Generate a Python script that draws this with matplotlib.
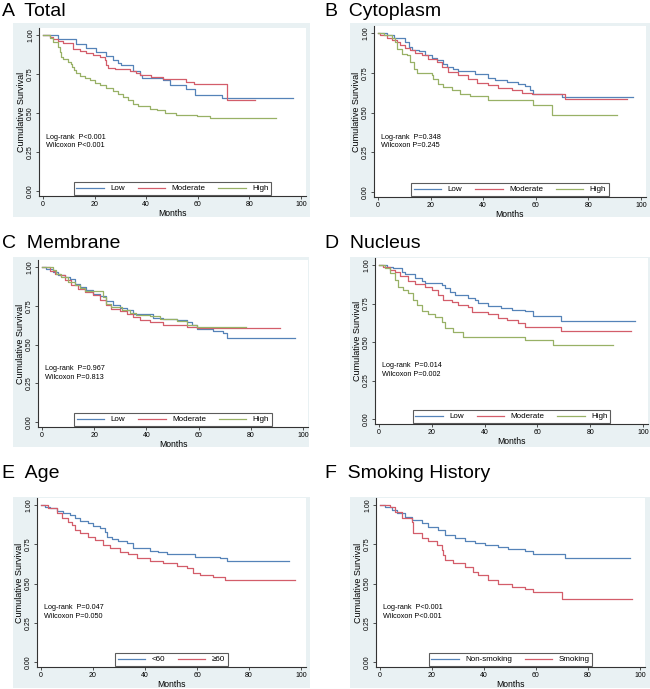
import matplotlib
matplotlib.use("Agg")
import matplotlib.pyplot as plt
from matplotlib.patches import Rectangle

plt.rcParams['font.family'] = ['Liberation Sans', 'DejaVu Sans']

W, H = 650, 689
fig = plt.figure(figsize=(W / 100, H / 100), dpi=100)

BLUE = '#5583B8'
RED = '#D35D6A'
GREEN = '#98B166'
REGION = '#E9F1F3'

# ---------------- data ----------------
# Panel A: Total
A_low_t = [0, 5.8, 12.9, 16.8, 20.7, 24.6, 27.2, 29.1, 30.4, 34.9, 37.5, 38.2, 46.6, 49.2, 55.6, 58.9, 69.2, 97]
A_low_s = [1.0, 0.974, 0.94, 0.914, 0.889, 0.865, 0.84, 0.818, 0.805, 0.767, 0.743, 0.726, 0.711, 0.679, 0.657, 0.615, 0.597, 0.597]
A_mod_t = [0, 2.6, 3.9, 5.8, 7.8, 11.6, 14.2, 16.8, 19.4, 22.0, 23.9, 24.6, 25.2, 27.8, 33.6, 36.2, 37.5, 42.0, 46.6, 51.7, 55.6, 58.5, 71.2, 82]
A_mod_s = [1.0, 0.99, 0.974, 0.964, 0.946, 0.91, 0.90, 0.886, 0.871, 0.857, 0.84, 0.807, 0.786, 0.779, 0.769, 0.754, 0.741, 0.728, 0.72, 0.715, 0.70, 0.683, 0.583, 0.583]
A_high_t = [0, 2.6, 3.9, 5.8, 6.5, 7.1, 7.8, 9.7, 11.0, 11.4, 11.9, 12.9, 14.2, 16.2, 18.1, 20.0, 22.0, 24.6, 27.2, 29.1, 31.0, 33.0, 34.9, 36.9, 41.4, 44.0, 47.2, 51.7, 59.5, 64.7, 66.0, 90.5]
A_high_s = [1.0, 0.98, 0.957, 0.925, 0.893, 0.86, 0.843, 0.83, 0.814, 0.797, 0.775, 0.754, 0.737, 0.722, 0.711, 0.694, 0.679, 0.662, 0.642, 0.621, 0.60, 0.582, 0.557, 0.544, 0.527, 0.518, 0.503, 0.49, 0.48, 0.471, 0.465, 0.465]

# Panel B: Cytoplasm
B_low_t = [0, 3.4, 6.1, 10.4, 11.6, 12.9, 15.4, 18.0, 20.5, 22.4, 24.9, 26.2, 28.7, 30.6, 37.0, 42.0, 44.6, 49.0, 53.4, 56.0, 57.8, 59.1, 69.9, 97]
B_low_s = [1.0, 0.985, 0.97, 0.943, 0.912, 0.895, 0.887, 0.86, 0.845, 0.828, 0.807, 0.786, 0.776, 0.761, 0.74, 0.719, 0.702, 0.692, 0.677, 0.665, 0.644, 0.618, 0.597, 0.597]
B_mod_t = [0, 0.9, 3.4, 5.3, 7.2, 8.5, 10.4, 12.3, 14.2, 16.7, 19.2, 22.4, 24.3, 26.8, 30.6, 34.4, 37.6, 42.0, 45.8, 50.9, 54.7, 58.5, 71.1, 94.5]
B_mod_s = [1.0, 0.99, 0.97, 0.958, 0.943, 0.922, 0.908, 0.891, 0.874, 0.86, 0.839, 0.818, 0.786, 0.755, 0.734, 0.713, 0.686, 0.671, 0.656, 0.639, 0.623, 0.614, 0.587, 0.587]
B_high_t = [0, 2.2, 5.3, 6.6, 7.2, 9.1, 11.0, 12.3, 13.5, 14.8, 20.5, 21.1, 23.0, 24.9, 28.1, 31.3, 35.0, 42.0, 59.1, 66.1, 91]
B_high_s = [1.0, 0.99, 0.97, 0.943, 0.901, 0.87, 0.86, 0.818, 0.776, 0.748, 0.734, 0.713, 0.68, 0.66, 0.639, 0.618, 0.602, 0.58, 0.545, 0.482, 0.482]

# Panel C: Membrane
C_low_t = [0, 1.7, 4.2, 6.1, 8.7, 10.6, 12.5, 14.5, 17.0, 19.6, 22.2, 24.7, 27.3, 29.8, 32.4, 34.9, 38.8, 42.6, 46.5, 51.6, 55.4, 57.4, 59.3, 65.7, 69.5, 70.8, 97]
C_low_s = [1.0, 0.99, 0.968, 0.95, 0.935, 0.92, 0.892, 0.87, 0.849, 0.828, 0.813, 0.78, 0.755, 0.738, 0.72, 0.70, 0.694, 0.67, 0.662, 0.656, 0.645, 0.624, 0.60, 0.59, 0.576, 0.542, 0.542]
C_mod_t = [0, 3.0, 4.9, 6.8, 8.7, 11.3, 13.8, 16.4, 19.6, 22.2, 24.7, 26.6, 29.8, 32.4, 34.9, 37.5, 41.4, 46.5, 55.4, 59.3, 91]
C_mod_s = [1.0, 0.972, 0.957, 0.946, 0.914, 0.882, 0.86, 0.839, 0.817, 0.785, 0.753, 0.731, 0.714, 0.699, 0.677, 0.656, 0.645, 0.628, 0.613, 0.606, 0.606]
C_high_t = [0, 4.2, 5.5, 7.4, 10.0, 12.5, 14.5, 16.4, 23.4, 24.7, 26.6, 30.5, 33.7, 36.2, 41.4, 45.2, 51.6, 55.4, 59.3, 78]
C_high_s = [1.0, 0.978, 0.957, 0.935, 0.903, 0.882, 0.862, 0.845, 0.806, 0.763, 0.742, 0.72, 0.705, 0.69, 0.684, 0.662, 0.65, 0.628, 0.613, 0.613]

# Panel D: Nucleus
D_low_t = [0, 2.9, 5.4, 8.6, 9.8, 13.6, 16.1, 17.4, 23.7, 25.0, 26.9, 28.8, 33.8, 36.3, 37.6, 41.4, 46.4, 50.2, 55.2, 58.4, 69.1, 97]
D_low_s = [1.0, 0.99, 0.978, 0.957, 0.94, 0.914, 0.896, 0.881, 0.87, 0.849, 0.827, 0.806, 0.788, 0.773, 0.752, 0.736, 0.724, 0.708, 0.702, 0.672, 0.637, 0.637]
D_mod_t = [0, 1.6, 4.2, 6.1, 8.0, 11.1, 13.6, 17.4, 19.9, 22.5, 24.3, 27.5, 30.0, 33.8, 35.1, 41.4, 45.2, 48.3, 52.7, 55.2, 69.1, 95.6]
D_mod_s = [1.0, 0.99, 0.968, 0.952, 0.931, 0.896, 0.875, 0.86, 0.838, 0.806, 0.773, 0.758, 0.74, 0.73, 0.698, 0.68, 0.659, 0.644, 0.622, 0.60, 0.572, 0.572]
D_high_t = [0, 2.3, 4.2, 6.1, 7.3, 9.2, 11.1, 13.0, 14.3, 16.2, 18.7, 21.2, 23.7, 25.0, 28.1, 31.9, 55.2, 66.0, 88.7]
D_high_s = [1.0, 0.978, 0.946, 0.903, 0.86, 0.838, 0.816, 0.773, 0.74, 0.702, 0.68, 0.665, 0.633, 0.594, 0.568, 0.53, 0.514, 0.482, 0.482]

# Panel E: Age
E_young_t = [0, 1.5, 3.5, 6.0, 8.6, 11.2, 13.1, 15.0, 18.2, 20.1, 22.7, 24.6, 25.3, 27.2, 29.7, 33.0, 35.5, 41.9, 45.1, 48.3, 52.8, 59.2, 68.8, 71.4, 95.5]
E_young_s = [1.0, 0.99, 0.979, 0.962, 0.947, 0.936, 0.915, 0.898, 0.883, 0.868, 0.851, 0.83, 0.798, 0.783, 0.77, 0.755, 0.728, 0.706, 0.698, 0.691, 0.685, 0.67, 0.66, 0.643, 0.643]
E_old_t = [0, 2.8, 6.0, 7.9, 10.5, 11.8, 13.1, 15.0, 18.2, 20.8, 24.0, 26.5, 30.4, 33.6, 36.8, 41.9, 47.0, 52.2, 56.0, 58.6, 61.2, 66.3, 70.8, 97.7]
E_old_s = [1.0, 0.979, 0.947, 0.915, 0.894, 0.872, 0.84, 0.819, 0.798, 0.777, 0.745, 0.723, 0.702, 0.685, 0.664, 0.643, 0.628, 0.613, 0.596, 0.57, 0.557, 0.543, 0.521, 0.521]

# Panel F: Smoking history
F_non_t = [0, 1.9, 4.5, 6.4, 9.6, 12.2, 16.0, 18.6, 22.4, 25.0, 28.8, 32.7, 36.5, 40.4, 45.5, 49.4, 55.8, 58.9, 62.2, 71.2, 96]
F_non_s = [1.0, 0.99, 0.968, 0.947, 0.926, 0.904, 0.883, 0.862, 0.84, 0.809, 0.791, 0.77, 0.755, 0.745, 0.734, 0.719, 0.706, 0.691, 0.685, 0.664, 0.664]
F_smk_t = [0, 3.8, 5.8, 8.3, 12.2, 12.8, 16.0, 18.6, 21.8, 23.7, 24.4, 25.0, 28.2, 32.7, 35.9, 37.8, 41.7, 45.5, 50.6, 55.8, 59.0, 69.9, 97]
F_smk_s = [1.0, 0.99, 0.957, 0.915, 0.894, 0.819, 0.791, 0.77, 0.745, 0.713, 0.681, 0.649, 0.628, 0.606, 0.574, 0.553, 0.521, 0.50, 0.479, 0.464, 0.443, 0.404, 0.404]

titles = ["A  Total", "B  Cytoplasm", "C  Membrane", "D  Nucleus", "E  Age", "F  Smoking History"]
pvals = [("P<0.001", "P<0.001"), ("P=0.348", "P=0.245"), ("P=0.967", "P=0.813"),
         ("P=0.014", "P=0.002"), ("P=0.047", "P=0.050"), ("P<0.001", "P<0.001")]
three = ["Low", "Moderate", "High"]
series = [
    [(A_low_t, A_low_s), (A_mod_t, A_mod_s), (A_high_t, A_high_s)],
    [(B_low_t, B_low_s), (B_mod_t, B_mod_s), (B_high_t, B_high_s)],
    [(C_low_t, C_low_s), (C_mod_t, C_mod_s), (C_high_t, C_high_s)],
    [(D_low_t, D_low_s), (D_mod_t, D_mod_s), (D_high_t, D_high_s)],
    [(E_young_t, E_young_s), (E_old_t, E_old_s)],
    [(F_non_t, F_non_s), (F_smk_t, F_smk_s)],
]
labels = [three, three, three, three, ["<60", "\u226560"], ["Non-smoking", "Smoking"]]
colors3 = [BLUE, RED, GREEN]

# layout in pixels: (x0, x100, y1, y0, region(l, t, r, b), title(x, y_baseline))
layout = [
    (43, 301, 35, 191, (13, 23, 310, 217), (2, 16)),
    (378, 641, 33, 192, (350, 23, 650, 217), (325, 16)),
    (42, 303, 267, 422, (13, 257, 309, 447), (2, 248)),
    (379, 643, 265, 419, (350, 257, 650, 447), (325, 248)),
    (41, 301, 505, 662, (13, 497, 310, 688), (2, 478)),
    (380, 640, 505, 662, (350, 497, 650, 688), (325, 478)),
]

for i in range(6):
    x0, x100, y1, y0, reg, tpos = layout[i]
    rl, rt, rr, rb = reg
    fig.patches.append(Rectangle((rl / W, 1 - rb / H), (rr - rl) / W, (rb - rt) / H,
                                 transform=fig.transFigure, facecolor=REGION,
                                 edgecolor='none', zorder=-10))
    fig.text(tpos[0] / W, 1 - tpos[1] / H, titles[i], fontsize=14, ha='left',
             va='baseline', color='black')
    left, right, top, bottom = x0 - 4, x100 + 5, y1 - 7, y0 + 5
    ax = fig.add_axes([left / W, 1 - bottom / H, (right - left) / W, (bottom - top) / H])
    ax.set_zorder(5)
    pxm = (x100 - x0) / 100.0
    pxs = (y0 - y1) / 1.0
    ax.set_xlim((left - x0) / pxm, (right - x0) / pxm)
    ax.set_ylim((y0 - bottom) / pxs, (y0 - top) / pxs)
    ax.set_facecolor('white')
    for k, (t, s) in enumerate(series[i]):
        ax.plot(t, s, drawstyle='steps-post', color=colors3[k], lw=0.9,
                label=labels[i][k])
    ax.spines['top'].set_visible(False)
    ax.spines['right'].set_visible(False)
    for sp in ('left', 'bottom'):
        ax.spines[sp].set_color('#333333')
        ax.spines[sp].set_linewidth(0.8)
    ax.set_xticks([0, 20, 40, 60, 80, 100])
    ax.set_yticks([0, 0.25, 0.5, 0.75, 1.0])
    ax.set_yticklabels(["0.00", "0.25", "0.50", "0.75", "1.00"], rotation=90,
                       va='center')
    ax.tick_params(axis='both', length=2.5, width=0.6, color='#333333',
                   labelsize=5.0, pad=1.0)
    ax.set_xlabel("Months", fontsize=6.2, labelpad=0.5)
    ax.set_ylabel("Cumulative Survival", fontsize=6.5, labelpad=1)
    ax.text(1.2, 0.345, "Log-rank  " + pvals[i][0], fontsize=5.2, va='center')
    ax.text(1.2, 0.29, "Wilcoxon " + pvals[i][1], fontsize=5.2, va='center')
    leg = ax.legend(loc='lower center', bbox_to_anchor=(0.5, 0.0),
                    ncol=len(series[i]), fontsize=5.8, frameon=True,
                    fancybox=False, handlelength=3.4, handletextpad=0.8,
                    columnspacing=1.6, borderpad=0.3, borderaxespad=0.15)
    leg.get_frame().set_edgecolor('#333333')
    leg.get_frame().set_linewidth(0.8)

fig.savefig("out.png", dpi=100)
